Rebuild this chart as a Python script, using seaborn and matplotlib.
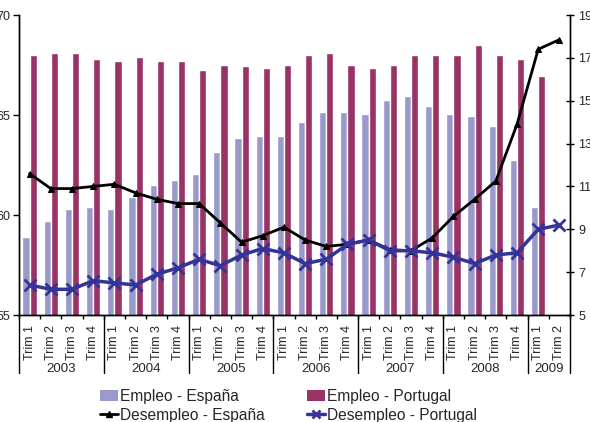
import numpy as np
import pandas as pd
import matplotlib
matplotlib.use("Agg")
import matplotlib.pyplot as plt
import matplotlib.transforms as mtransforms
from matplotlib.lines import Line2D
from matplotlib.patches import Patch
import seaborn as sns

# Quarterly periods 2003 T1 .. 2009 T2
years = ["2003", "2004", "2005", "2006", "2007", "2008", "2009"]
quarters_per_year = [4, 4, 4, 4, 4, 4, 2]
quarter_labels = ["Trim 1", "Trim 2", "Trim 3", "Trim 4"]

# Employment rate (%), left axis
empleo_espana = [58.9, 59.7, 60.3, 60.4, 60.3, 60.9, 61.5, 61.75, 62.05, 63.15,
                 63.85, 63.95, 63.95, 64.65, 65.15, 65.15, 65.05, 65.75, 65.95,
                 65.45, 65.05, 64.95, 64.45, 62.75, 60.4, np.nan]
empleo_portugal = [68.0, 68.1, 68.1, 67.8, 67.7, 67.9, 67.7, 67.7, 67.25, 67.5,
                   67.45, 67.35, 67.5, 68.0, 68.1, 67.5, 67.35, 67.5, 68.0,
                   68.0, 68.0, 68.5, 68.0, 67.8, 66.95, np.nan]
# Unemployment rate (%), right axis
desempleo_espana = [11.6, 10.9, 10.9, 11.0, 11.1, 10.7, 10.4, 10.2, 10.2, 9.3,
                    8.4, 8.7, 9.1, 8.5, 8.2, 8.3, 8.5, 8.05, 8.0, 8.6, 9.6,
                    10.4, 11.25, 13.9, 17.4, 17.85]
desempleo_portugal = [6.4, 6.2, 6.2, 6.6, 6.5, 6.4, 6.9, 7.2, 7.6, 7.3, 7.8,
                      8.1, 7.9, 7.4, 7.6, 8.3, 8.5, 8.0, 8.0, 7.9, 7.7, 7.4,
                      7.8, 7.9, 9.0, 9.2]

periods = []
trims = []
for y, n in zip(years, quarters_per_year):
    for q in range(n):
        periods.append(f"{y} T{q + 1}")
        trims.append(quarter_labels[q])

c_es_bar = "#9999CC"
c_pt_bar = "#993366"
c_es_line = "#000000"
c_pt_line = "#333399"

sns.set_theme(style="white")
plt.rcParams["font.family"] = ["Liberation Sans", "DejaVu Sans"]

bars = pd.DataFrame({
    "periodo": periods * 2,
    "serie": ["Empleo - España"] * len(periods) + ["Empleo - Portugal"] * len(periods),
    "valor": empleo_espana + empleo_portugal,
})

fig = plt.figure(figsize=(5.90, 4.22), dpi=100)
ax = fig.add_axes([19 / 590, 1 - 315 / 422, 551 / 590, 300 / 422])

sns.barplot(data=bars, x="periodo", y="valor", hue="serie", order=periods,
            hue_order=["Empleo - España", "Empleo - Portugal"],
            palette=[c_es_bar, c_pt_bar], width=0.68, gap=0, dodge=True,
            saturation=1, errorbar=None, ax=ax, legend=False)
ax.set_ylim(55, 70)
ax.set_xlim(-0.5, len(periods) - 0.5)
ax.set_yticks([55, 60, 65, 70])
ax.set_xlabel("")
ax.set_ylabel("")

ax2 = ax.twinx()
pos = np.arange(len(periods))
sns.lineplot(x=pos, y=desempleo_espana, ax=ax2, color=c_es_line, lw=2,
             marker="^", markersize=5, markeredgecolor=c_es_line)
sns.lineplot(x=pos, y=desempleo_portugal, ax=ax2, color=c_pt_line, lw=2.5,
             marker="x", markersize=8, markeredgewidth=2,
             markeredgecolor=c_pt_line)
ax2.set_ylim(5, 19)
ax2.set_yticks(range(5, 20, 2))
ax2.set_xlim(-0.5, len(periods) - 0.5)

for a in (ax, ax2):
    a.spines["top"].set_visible(False)
    for s in ("left", "right", "bottom"):
        a.spines[s].set_color("black")
        a.spines[s].set_linewidth(1.0)
    a.grid(False)

ax.tick_params(axis="y", direction="out", length=4, width=1, color="black",
               labelsize=9, pad=2, left=True)
ax2.tick_params(axis="y", direction="inout", length=6, width=1, color="black",
                labelsize=9, pad=3, right=True)

# Quarter tick labels, rotated, with short ticks at category boundaries
ax.set_xticks(pos)
ax.set_xticklabels(trims, rotation=90, fontsize=9)
ax.tick_params(axis="x", length=0, pad=7)
ax.set_xticks(np.arange(-0.5, len(periods), 1), minor=True)
ax.tick_params(axis="x", which="minor", direction="out", length=3, width=1,
               color="black", bottom=True)

# Year labels and group separators below the axis
trans = mtransforms.blended_transform_factory(ax.transData, ax.transAxes)
sep_bottom = -(373 - 315) / 300
start = 0
bounds = [-0.5]
for y, n in zip(years, quarters_per_year):
    center = start + (n - 1) / 2
    ax.text(center, -(369 - 315) / 300, y, transform=trans, ha="center",
            va="center", fontsize=9.5)
    start += n
    bounds.append(start - 0.5)
for b in bounds:
    ax.plot([b, b], [0, sep_bottom], transform=trans, color="black", lw=1,
            clip_on=False)

# Legend: columns are filled first, so order entries column by column
handles = [
    Patch(facecolor=c_es_bar, edgecolor="none"),
    Line2D([], [], color=c_es_line, lw=2, marker="^", markersize=4),
    Patch(facecolor=c_pt_bar, edgecolor="none"),
    Line2D([], [], color=c_pt_line, lw=2.5, marker="x", markersize=6,
           markeredgewidth=2),
]
labels = ["Empleo - España", "Desempleo - España", "Empleo - Portugal",
          "Desempleo - Portugal"]
fig.legend(handles, labels, ncol=2, loc="center",
           bbox_to_anchor=(0.489, 1 - 406 / 422),
           frameon=False, fontsize=11.2, handlelength=1.15, handletextpad=0.15,
           columnspacing=2.7, labelspacing=0.22, borderaxespad=0)

fig.savefig("out.png", dpi=100)
